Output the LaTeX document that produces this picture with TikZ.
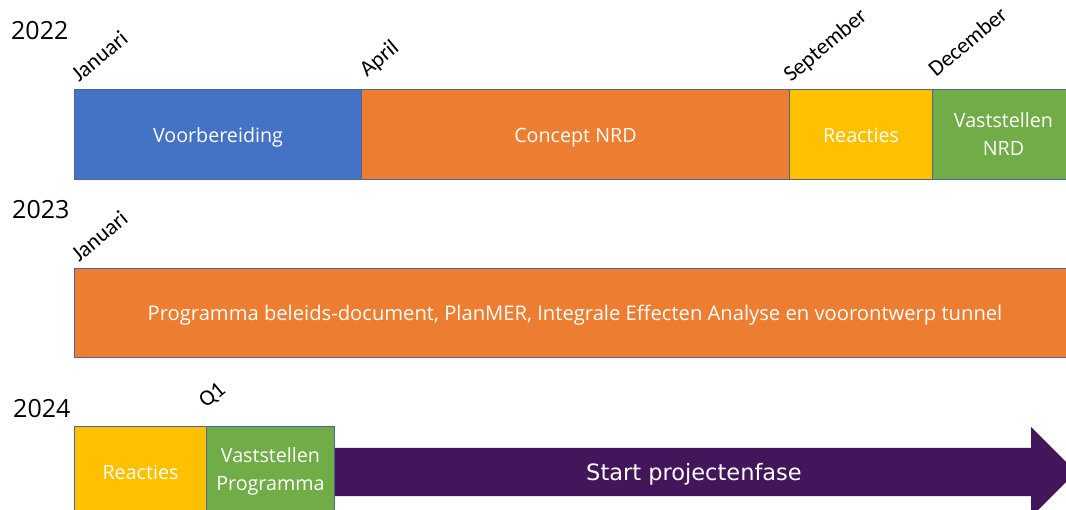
\documentclass[tikz,border=0pt]{standalone}
\usepackage{fontspec}
\setmainfont{Open Sans}
\newfontfamily\monthfont{Carlito}
\newfontfamily\arrowfont{DejaVu Sans}
\definecolor{cblue}{HTML}{4472C4}
\definecolor{corange}{HTML}{ED7D31}
\definecolor{cyellow}{HTML}{FFC000}
\definecolor{cgreen}{HTML}{70AD47}
\definecolor{cpurple}{HTML}{43165B}
\definecolor{edge}{HTML}{4F6490}
\begin{document}
\begin{tikzpicture}[x=1pt,y=-1pt,
  box/.style={draw=edge, line width=1pt, text=white, font=\fontsize{19.7}{28}\selectfont, align=center, inner sep=0pt, anchor=north west},
  onebox/.style={box, text height=18pt, text depth=2pt},
  month/.style={rotate=40, anchor=base west, inner sep=0pt, font=\monthfont\fontsize{22.5}{26}\selectfont},
  year/.style={anchor=west, inner sep=0pt, font=\fontsize{25}{30}\selectfont}]
\useasboundingbox (0,0) rectangle (1066,510);
\clip (0,0) rectangle (1066,510);
\fill[white] (0,0) rectangle (1066,510);
% years
\node[year] (y22) at (11,31) {2022};
\node[year] (y23) at (12,210) {2023};
\node[year] (y24) at (13,409) {2024};
% row 2022
\node[onebox, fill=cblue, minimum width=287pt, minimum height=90pt] (voor) at (74,89) {Voorbereiding};
\node[onebox, fill=corange, minimum width=428pt, minimum height=90pt] (concept) at (361,89) {Concept NRD};
\node[onebox, fill=cyellow, minimum width=143pt, minimum height=90pt] (reac) at (789,89) {Reacties};
\node[box, fill=cgreen, minimum width=142pt, minimum height=90pt] (vnrd) at (932,89) {Vaststellen\\NRD};
\node[month] (jan22) at (79,83) {Januari};
\node[month] (apr) at (367,78) {April};
\node[month] (sep) at (791,83) {September};
\node[month] (dec) at (936,78) {December};
% row 2023
\node[onebox, fill=corange, minimum width=1001pt, minimum height=89pt, font=\fontsize{20.2}{28}\selectfont] (prog) at (74,268) {Programma beleids-document, PlanMER, Integrale Effecten Analyse en voorontwerp tunnel};
\node[month] (jan23) at (79,263) {Januari};
% row 2024
\fill[cpurple] (330,448) -- (1031,448) -- (1031,427) -- (1076,472) -- (1031,517) -- (1031,496) -- (330,496) -- cycle;
\node[text=white, font=\arrowfont\fontsize{22.5}{30}\selectfont, inner sep=0pt, text height=20pt, text depth=4pt] (start) at (694,472) {Start projectenfase};
\node[onebox, fill=cyellow, minimum width=132pt, minimum height=90pt] (reac24) at (74,426) {Reacties};
\node[box, fill=cgreen, minimum width=128pt, minimum height=90pt] (vprog) at (206,426) {Vaststellen\\Programma};
\node[month] (q1) at (206,409) {Q1};
\end{tikzpicture}
\end{document}
